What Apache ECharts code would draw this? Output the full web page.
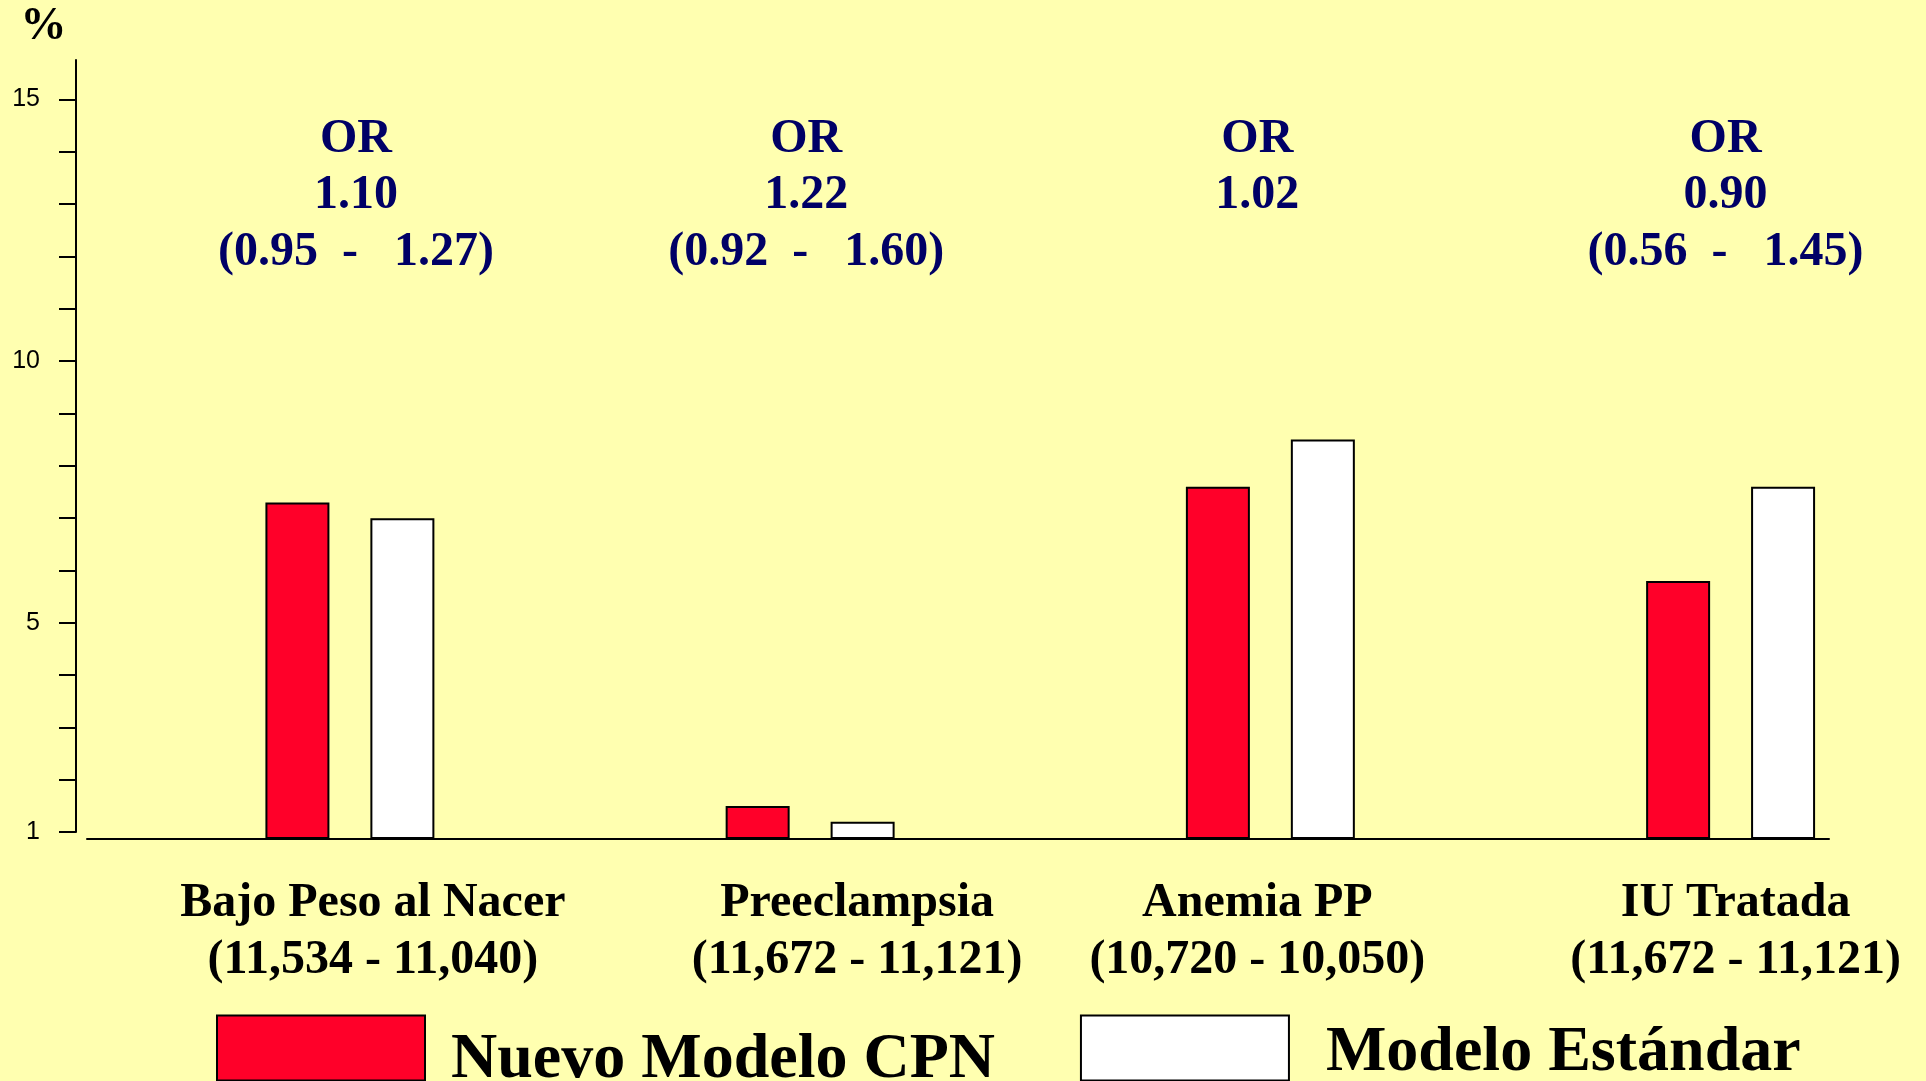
<!DOCTYPE html>
<html>
<head>
<meta charset="utf-8">
<script src="https://cdn.jsdelivr.net/npm/echarts@6/dist/echarts.min.js"></script>
<style>
html, body { margin: 0; padding: 0; background: #FFFFB0; }
#chart { width: 1926px; height: 1081px; }
</style>
</head>
<body>
<div id="chart"></div>
<script>
// ---- data ----
const categories = ['Bajo Peso al Nacer', 'Preeclampsia', 'Anemia PP', 'IU Tratada'];
const sampleSizes = ['(11,534 - 11,040)', '(11,672 - 11,121)', '(10,720 - 10,050)', '(11,672 - 11,121)'];
const oddsRatios = ['1.10', '1.22', '1.02', '0.90'];
const confIntervals = ['(0.95  -   1.27)', '(0.92  -   1.60)', '', '(0.56  -   1.45)'];
const seriesNames = ['Nuevo Modelo CPN', 'Modelo Estándar'];
const nuevoModelo = [7.3, 1.5, 7.6, 5.8];
const modeloEstandar = [7.0, 1.2, 8.5, 7.6];
const yTickValues = [1, 2, 3, 4, 5, 6, 7, 8, 9, 10, 11, 12, 13, 14, 15];
const yLabelValues = [1, 5, 10, 15];

// ---- styling ----
const SERIF = '"Liberation Serif", "Times New Roman", serif';
const SANS = '"Liberation Sans", Arial, sans-serif';
const NAVY = '#000066';
const labelShift = [23, 47, -13, 5];
const orShift = [6, -4, -13, -5];

function shiftPad(d) { return d >= 0 ? [0, 0, 0, 2 * d] : [0, -2 * d, 0, 0]; }
function richSet(shifts, color, lh) {
  const r = {};
  shifts.forEach((d, i) => {
    r['s' + i] = { fontFamily: SERIF, fontWeight: 'bold', fontSize: 48, color: color, lineHeight: lh, padding: shiftPad(d) };
  });
  return r;
}
function toRich(lines, i) { return lines.filter(l => l !== '').map(l => '{s' + i + '|' + l + '}').join('\n'); }

const legendFont = { fontFamily: SERIF, fontWeight: 'bold', fontSize: 64, color: '#000', lineHeight: 20 };

const chart = echarts.init(document.getElementById('chart'), null, { renderer: 'canvas' });
chart.setOption({
  backgroundColor: '#FFFFB0',
  animation: false,
  grid: [
    { left: 76, right: 97, top: 60, bottom: 249 },
    { left: 87, right: 97, top: 60, bottom: 242 },
    { left: 349.9, right: 195.4, top: 60, bottom: 242 }
  ],
  xAxis: [
    { gridIndex: 0, type: 'category', data: categories, show: false },
    { gridIndex: 1, type: 'category', data: categories,
      axisLine: { show: true, onZero: false, lineStyle: { color: '#000', width: 2 } },
      axisTick: { show: false }, axisLabel: { show: false } },
    { gridIndex: 2, type: 'category', data: categories, position: 'bottom', boundaryGap: false,
      axisLine: { show: false, onZero: false }, axisTick: { show: false },
      axisLabel: { interval: 0, margin: 36, formatter: (v, i) => toRich([categories[i], sampleSizes[i]], i),
        rich: richSet(labelShift, '#000', 57) } },
    { gridIndex: 2, type: 'category', data: categories, position: 'top', boundaryGap: false,
      axisLine: { show: false, onZero: false }, axisTick: { show: false },
      axisLabel: { interval: 0, margin: -51, verticalAlign: 'top',
        formatter: (v, i) => toRich(['OR', oddsRatios[i], confIntervals[i]], i),
        rich: richSet(orShift, NAVY, 56.5) } }
  ],
  yAxis: [
    { gridIndex: 0, type: 'value', min: 1, max: 15.75,
      name: '%', nameLocation: 'end', nameGap: 10,
      nameTextStyle: { fontFamily: SERIF, fontWeight: 'bold', fontSize: 46, color: '#000', lineHeight: 46,
        align: 'center', verticalAlign: 'bottom', padding: [0, 65, 0, 0] },
      axisLine: { show: true, lineStyle: { color: '#000', width: 2 } },
      axisTick: { show: true, inside: false, length: 17, customValues: yTickValues, lineStyle: { color: '#000', width: 2 } },
      axisLabel: { show: true, customValues: yLabelValues, margin: 36, fontFamily: SANS, fontSize: 25, color: '#000' },
      splitLine: { show: false } },
    { gridIndex: 1, type: 'value', min: 0.872, max: 15.75, show: false, splitLine: { show: false } },
    { gridIndex: 2, type: 'value', min: 0.872, max: 15.75, startValue: 0.872, show: false, splitLine: { show: false } }
  ],
  legend: {
    left: 216, top: 1004, padding: 0, orient: 'horizontal',
    itemWidth: 208, itemHeight: 65, itemGap: 85, icon: 'rect', selectedMode: false,
    data: seriesNames,
    formatter: name => (name === seriesNames[0] ? '{a|' : '{b|') + name + '}',
    textStyle: {
      fontFamily: SERIF, fontWeight: 'bold', fontSize: 64, color: '#000',
      rich: {
        a: Object.assign({ padding: [24, 0, 0, 21] }, legendFont),
        b: Object.assign({ padding: [10, 0, 0, 32] }, legendFont)
      }
    }
  },
  series: [
    { type: 'bar', name: seriesNames[0], xAxisIndex: 2, yAxisIndex: 2, data: nuevoModelo,
      barWidth: 64, barGap: '64%', clip: false,
      itemStyle: { color: '#FF0029', borderColor: '#000', borderWidth: 2 } },
    { type: 'bar', name: seriesNames[1], xAxisIndex: 2, yAxisIndex: 2, data: modeloEstandar,
      barWidth: 64, barGap: '64%', clip: false,
      itemStyle: { color: '#FFFFFF', borderColor: '#000', borderWidth: 2 } }
  ]
});
</script>
</body>
</html>
